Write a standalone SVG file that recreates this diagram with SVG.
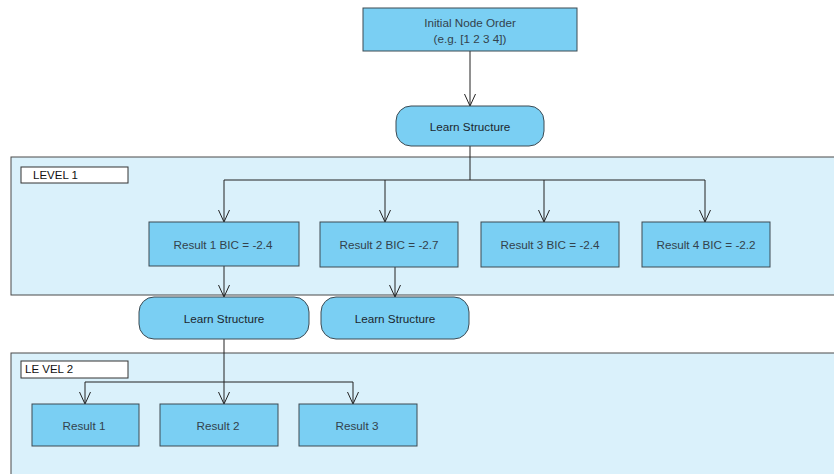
<svg xmlns="http://www.w3.org/2000/svg" width="834" height="474" viewBox="0 0 834 474">
  <style>
    .panel { fill: #DAF1FB; stroke: #4a4a4a; stroke-width: 1; }
    .tag { fill: #ffffff; stroke: #333333; stroke-width: 1; }
    .tagtxt { font-family: "Liberation Sans", Arial, sans-serif; font-size: 11.5px; fill: #111111; }
    .box { fill: #7ACFF3; stroke: #3d4a52; stroke-width: 1; }
    .txt { font-family: "Liberation Sans", Arial, sans-serif; font-size: 11.7px; fill: #33424c; text-anchor: middle; dominant-baseline: central; }
    .act { fill: #1c272e; }
    .wire { fill: none; stroke: #222222; stroke-width: 1; }
  </style>
  <defs>
    <marker id="vhead" markerUnits="userSpaceOnUse" viewBox="-13 -7 14 14" markerWidth="14" markerHeight="14" refX="0" refY="0" orient="auto" overflow="visible">
      <path d="M-12,-5.5 L0,0 L-12,5.5" fill="none" stroke="#222222" stroke-width="1"/>
    </marker>
  </defs>

  <!-- swimlane panels -->
  <g id="level1">
    <rect class="panel" x="11" y="157" width="830" height="138"/>
    <rect class="tag" x="21" y="167" width="107" height="16"/>
    <text class="tagtxt" x="33" y="179">LEVEL 1</text>
  </g>
  <g id="level2">
    <rect class="panel" x="11" y="353" width="830" height="130"/>
    <rect class="tag" x="21" y="361" width="107" height="17"/>
    <text class="tagtxt" x="25" y="373">LE VEL 2</text>
  </g>

  <!-- connectors -->
  <g id="connectors">
    <path class="wire" d="M470,51 V106" marker-end="url(#vhead)"/>
    <path class="wire" d="M470,146 V180"/>
    <path class="wire" d="M224,180 H705"/>
    <path class="wire" d="M224,180 V222" marker-end="url(#vhead)"/>
    <path class="wire" d="M385,180 V222" marker-end="url(#vhead)"/>
    <path class="wire" d="M544,180 V222" marker-end="url(#vhead)"/>
    <path class="wire" d="M705,180 V222" marker-end="url(#vhead)"/>
    <path class="wire" d="M224,266 V297" marker-end="url(#vhead)"/>
    <path class="wire" d="M395,267 V297" marker-end="url(#vhead)"/>
    <path class="wire" d="M224,339 V404" marker-end="url(#vhead)"/>
    <path class="wire" d="M85,382 H353"/>
    <path class="wire" d="M85,382 V404" marker-end="url(#vhead)"/>
    <path class="wire" d="M353,382 V404" marker-end="url(#vhead)"/>
  </g>

  <!-- nodes -->
  <g id="initial-order">
    <rect class="box" x="363" y="8" width="214" height="43"/>
    <text class="txt" x="470" y="22">Initial Node Order</text>
    <text class="txt" x="470" y="38">(e.g. [1 2 3 4])</text>
  </g>
  <g id="learn-top">
    <rect class="box" x="396" y="106" width="148" height="40" rx="15" ry="15"/>
    <text class="txt act" x="470" y="126">Learn Structure</text>
  </g>
  <g id="result1-bic">
    <rect class="box" x="149" y="222" width="150" height="44"/>
    <text class="txt" x="223" y="244">Result 1 BIC = -2.4</text>
  </g>
  <g id="result2-bic">
    <rect class="box" x="320" y="222" width="138" height="45"/>
    <text class="txt" x="389" y="244">Result 2 BIC = -2.7</text>
  </g>
  <g id="result3-bic">
    <rect class="box" x="481" y="222" width="138" height="45"/>
    <text class="txt" x="550" y="244">Result 3 BIC = -2.4</text>
  </g>
  <g id="result4-bic">
    <rect class="box" x="642" y="222" width="128" height="45"/>
    <text class="txt" x="706" y="244">Result 4 BIC = -2.2</text>
  </g>
  <g id="learn-left">
    <rect class="box" x="139" y="297" width="170" height="42" rx="15" ry="15"/>
    <text class="txt act" x="224" y="318">Learn Structure</text>
  </g>
  <g id="learn-right">
    <rect class="box" x="321" y="297" width="148" height="42" rx="15" ry="15"/>
    <text class="txt act" x="395" y="318">Learn Structure</text>
  </g>
  <g id="result1">
    <rect class="box" x="32" y="404" width="107" height="42"/>
    <text class="txt" x="84" y="425">Result 1</text>
  </g>
  <g id="result2">
    <rect class="box" x="160" y="404" width="118" height="42"/>
    <text class="txt" x="218" y="425">Result 2</text>
  </g>
  <g id="result3">
    <rect class="box" x="299" y="404" width="118" height="42"/>
    <text class="txt" x="357" y="425">Result 3</text>
  </g>
</svg>
